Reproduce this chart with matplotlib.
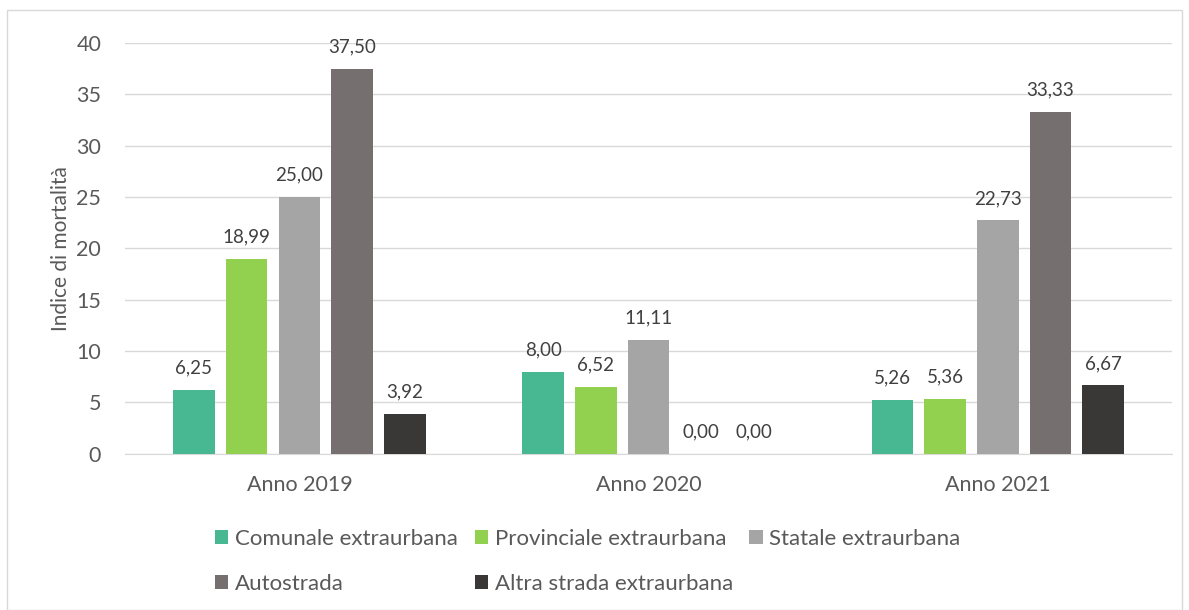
import matplotlib.pyplot as plt
import numpy as np
from matplotlib.patches import Rectangle

plt.rcParams['font.family'] = ['Lato', 'DejaVu Sans']

years = ["Anno 2019", "Anno 2020", "Anno 2021"]
series = ["Comunale extraurbana", "Provinciale extraurbana", "Statale extraurbana",
          "Autostrada", "Altra strada extraurbana"]
comunale = [6.25, 8.00, 5.26]
provinciale = [18.99, 6.52, 5.36]
statale = [25.00, 11.11, 22.73]
autostrada = [37.50, 0.00, 33.33]
altra = [3.92, 0.00, 6.67]
colors = ["#47B891", "#92D050", "#A5A5A5", "#75706F", "#3A3836"]

values = [comunale, provinciale, statale, autostrada, altra]

fig = plt.figure(figsize=(11.89, 6.10), dpi=100)
ax = fig.add_axes([0.105, 0.256, 0.881, 0.6735])

x = np.arange(len(years))
pitch = 0.151
width = 0.119
handles = []
for i, (name, vals, col) in enumerate(zip(series, values, colors)):
    pos = x + (i - 2) * pitch
    bars = ax.bar(pos, vals, width, color=col, label=name, zorder=3)
    handles.append(bars)
    for p, v in zip(pos, vals):
        ax.annotate(f"{v:.2f}".replace(".", ","), (p, v), xytext=(0, 9.5),
                    textcoords="offset points", ha="center", va="bottom",
                    fontsize=13.5, color="#404040")

ax.set_ylim(0, 40)
ax.set_xlim(-0.5, 2.5)
ax.set_yticks(range(0, 41, 5))
ax.set_xticks(x)
ax.set_xticklabels(years)
ax.tick_params(axis="both", length=0, labelsize=15.5, colors="#595959")
ax.tick_params(axis="y", pad=17)
ax.tick_params(axis="x", pad=15)
ax.grid(axis="y", color="#D9D9D9", lw=1, zorder=0)
for s in ["top", "right", "left"]:
    ax.spines[s].set_visible(False)
ax.spines["bottom"].set_color("#D9D9D9")
ax.set_ylabel("Indice di mortalità", fontsize=15, color="#595959", labelpad=4)

order = [0, 3, 1, 4, 2]
leg = fig.legend([handles[k] for k in order], [series[k] for k in order],
                 ncol=3, loc="upper left", bbox_to_anchor=(0.164, 0.166),
                 frameon=False, fontsize=16, handlelength=0.6, handleheight=0.6,
                 handletextpad=0.3, columnspacing=0.75, labelspacing=1.12)
for t in leg.get_texts():
    t.set_color("#595959")

fig.patches.append(Rectangle((0.006, 0.0), 0.988, 0.984, transform=fig.transFigure,
                             fill=False, edgecolor="#D9D9D9", lw=1))

fig.savefig("out.png", dpi=100)
